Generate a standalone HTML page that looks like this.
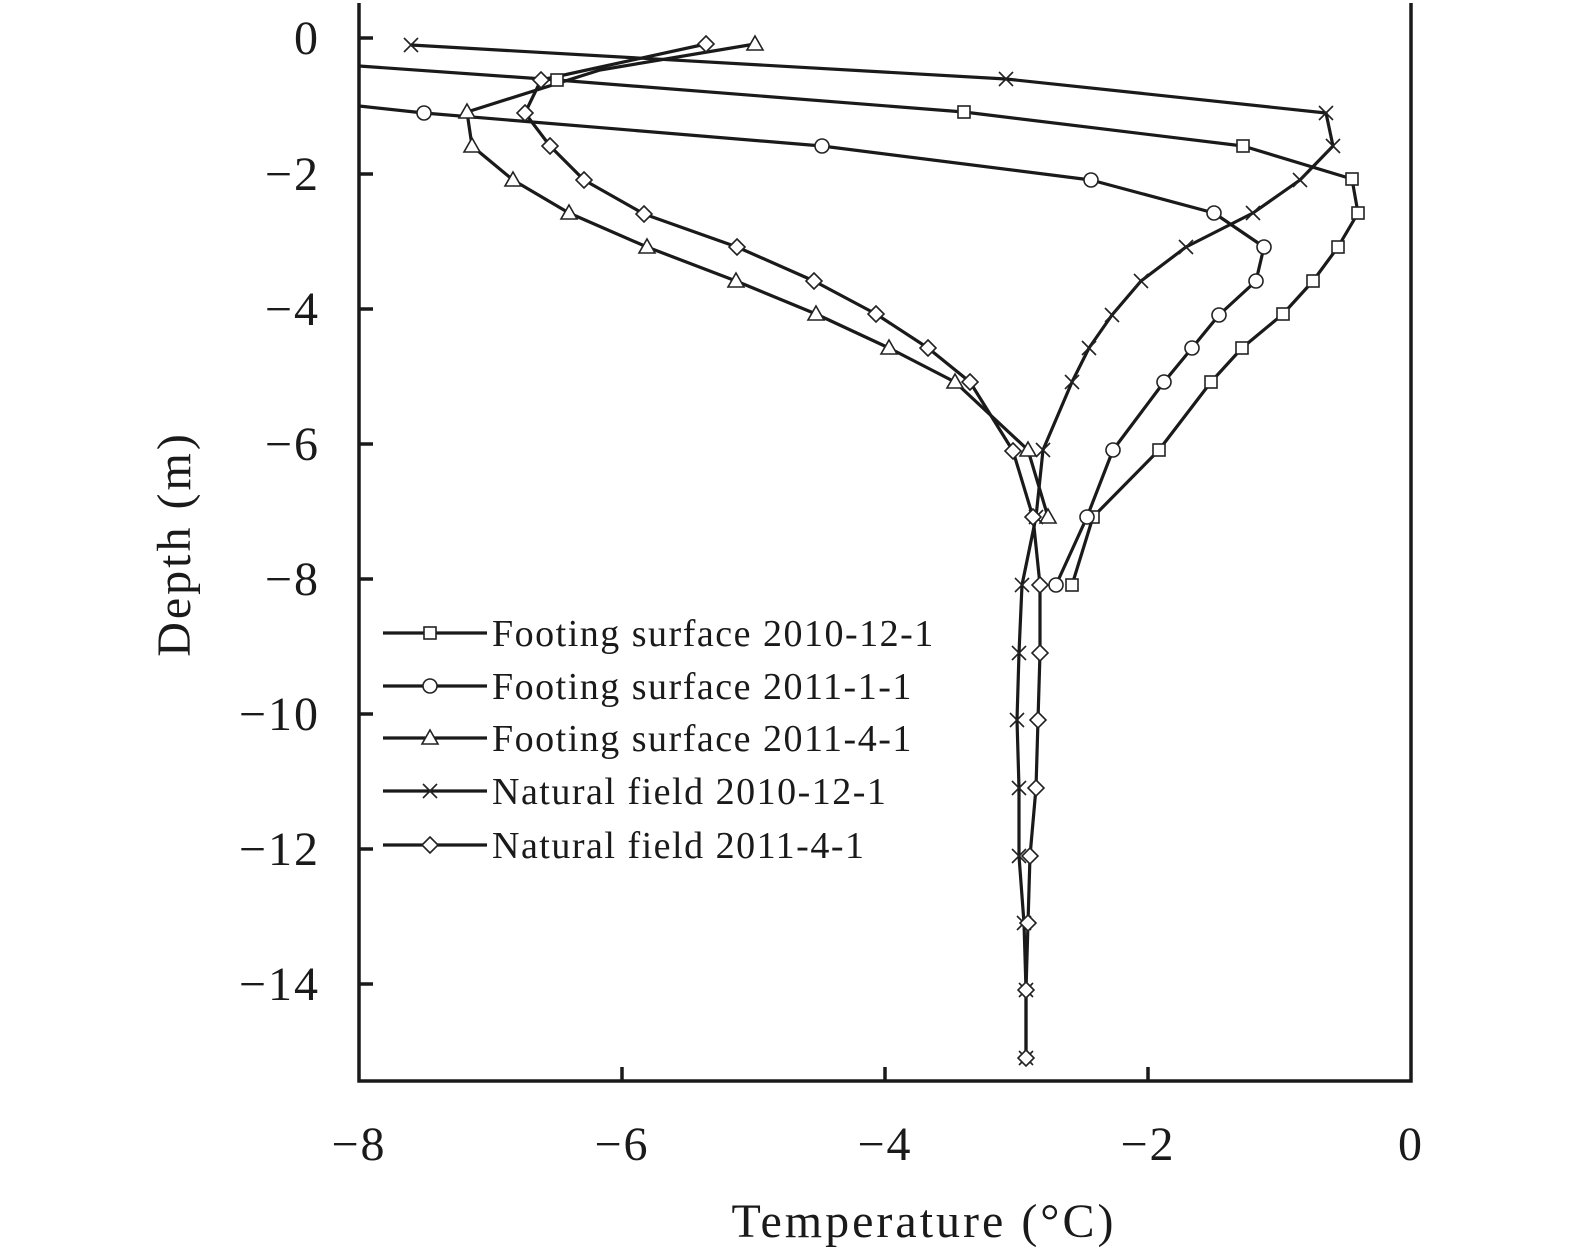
<!DOCTYPE html><html><head><style>body{margin:0;background:#fff}svg{display:block}text{font-family:"Liberation Serif",serif;fill:#1a1a1a}</style></head><body>
<svg width="1575" height="1260" viewBox="0 0 1575 1260" xmlns="http://www.w3.org/2000/svg">
<defs>
<g id="sq"><rect x="-6" y="-6" width="12" height="12" fill="#fff" stroke="#222" stroke-width="1.6"/></g>
<g id="ci"><circle r="7" fill="#fff" stroke="#222" stroke-width="1.6"/></g>
<g id="tr"><polygon points="0,-8 8,6 -8,6" fill="#fff" stroke="#222" stroke-width="1.6"/></g>
<g id="xx"><path d="M-7,-7L7,7M-7,7L7,-7" stroke="#222" stroke-width="1.6"/></g>
<g id="di"><polygon points="0,-8 8,0 0,8 -8,0" fill="#fff" stroke="#222" stroke-width="1.6"/></g>
</defs>
<g fill="none" stroke="#1a1a1a" stroke-width="3.5">
<path d="M359,3V1081H1411V3"/>
<path d="M359,38h14M359,174h14M359,309h14M359,444h14M359,579h14M359,714h14M359,849h14M359,984h14"/>
<path d="M622,1081v-14M885,1081v-14M1148,1081v-14"/>
</g>
<g fill="none" stroke="#1a1a1a" stroke-width="3.2" stroke-linejoin="round">
<polyline points="359,66 557,80 964,112 1243,146 1352,179 1358,213 1338,247 1313,281 1283,314 1242,348 1211,382 1159,450 1093,517 1072,585"/>
<polyline points="359,106 424,113 822,146 1091,180 1214,213 1264,247 1256,281 1219,315 1192,348 1164,382 1113,450 1087,517 1056,585"/>
<polyline points="755,44 600,70 467,112 472,146 513,180 569,213 647,247 736,281 816,314 889,348 955,382 1028,450 1048,517"/>
<polyline points="411,45 1006,79 1326,113 1333,146 1300,180 1253,213 1186,247 1141,281 1112,315 1089,348 1072,382 1043,450 1036,517 1022,585 1019,653 1017,720 1019,788 1019,856 1024,923 1026,990 1026,1058"/>
<polyline points="706,44 541,80 525,113 550,146 584,180 644,214 737,247 814,281 876,314 928,348 970,382 1013,451 1033,517 1040,585 1040,653 1038,720 1036,788 1030,856 1028,923 1026,990 1026,1058"/>
<path d="M383,633h104M383,686h104M383,738h104M383,791h104M383,845h104"/>
</g>
<g>
<use href="#sq" x="557" y="80"/><use href="#sq" x="964" y="112"/><use href="#sq" x="1243" y="146"/><use href="#sq" x="1352" y="179"/><use href="#sq" x="1358" y="213"/><use href="#sq" x="1338" y="247"/><use href="#sq" x="1313" y="281"/><use href="#sq" x="1283" y="314"/><use href="#sq" x="1242" y="348"/><use href="#sq" x="1211" y="382"/><use href="#sq" x="1159" y="450"/><use href="#sq" x="1093" y="517"/><use href="#sq" x="1072" y="585"/>
<use href="#ci" x="424" y="113"/><use href="#ci" x="822" y="146"/><use href="#ci" x="1091" y="180"/><use href="#ci" x="1214" y="213"/><use href="#ci" x="1264" y="247"/><use href="#ci" x="1256" y="281"/><use href="#ci" x="1219" y="315"/><use href="#ci" x="1192" y="348"/><use href="#ci" x="1164" y="382"/><use href="#ci" x="1113" y="450"/><use href="#ci" x="1087" y="517"/><use href="#ci" x="1056" y="585"/>
<use href="#tr" x="755" y="44"/><use href="#tr" x="467" y="112"/><use href="#tr" x="472" y="146"/><use href="#tr" x="513" y="180"/><use href="#tr" x="569" y="213"/><use href="#tr" x="647" y="247"/><use href="#tr" x="736" y="281"/><use href="#tr" x="816" y="314"/><use href="#tr" x="889" y="348"/><use href="#tr" x="955" y="382"/><use href="#tr" x="1028" y="450"/><use href="#tr" x="1048" y="517"/>
<use href="#xx" x="411" y="45"/><use href="#xx" x="1006" y="79"/><use href="#xx" x="1326" y="113"/><use href="#xx" x="1333" y="146"/><use href="#xx" x="1300" y="180"/><use href="#xx" x="1253" y="213"/><use href="#xx" x="1186" y="247"/><use href="#xx" x="1141" y="281"/><use href="#xx" x="1112" y="315"/><use href="#xx" x="1089" y="348"/><use href="#xx" x="1072" y="382"/><use href="#xx" x="1043" y="450"/><use href="#xx" x="1036" y="517"/><use href="#xx" x="1022" y="585"/><use href="#xx" x="1019" y="653"/><use href="#xx" x="1017" y="720"/><use href="#xx" x="1019" y="788"/><use href="#xx" x="1019" y="856"/><use href="#xx" x="1024" y="923"/><use href="#xx" x="1026" y="990"/><use href="#xx" x="1026" y="1058"/>
<use href="#di" x="706" y="44"/><use href="#di" x="541" y="80"/><use href="#di" x="525" y="113"/><use href="#di" x="550" y="146"/><use href="#di" x="584" y="180"/><use href="#di" x="644" y="214"/><use href="#di" x="737" y="247"/><use href="#di" x="814" y="281"/><use href="#di" x="876" y="314"/><use href="#di" x="928" y="348"/><use href="#di" x="970" y="382"/><use href="#di" x="1013" y="451"/><use href="#di" x="1033" y="517"/><use href="#di" x="1040" y="585"/><use href="#di" x="1040" y="653"/><use href="#di" x="1038" y="720"/><use href="#di" x="1036" y="788"/><use href="#di" x="1030" y="856"/><use href="#di" x="1028" y="923"/><use href="#di" x="1026" y="990"/><use href="#di" x="1026" y="1058"/>
<use href="#sq" x="430" y="633"/><use href="#ci" x="430" y="686"/><use href="#tr" x="430" y="738"/><use href="#xx" x="430" y="791"/><use href="#di" x="430" y="845"/>
</g>
<g font-size="38" letter-spacing="1.5">
<text x="492" y="646">Footing surface 2010-12-1</text>
<text x="492" y="699">Footing surface 2011-1-1</text>
<text x="492" y="751">Footing surface 2011-4-1</text>
<text x="492" y="804">Natural field 2010-12-1</text>
<text x="492" y="858">Natural field 2011-4-1</text>
</g>
<g font-size="48" text-anchor="end" letter-spacing="2">
<text x="320" y="54">0</text><text x="320" y="190">−2</text><text x="320" y="325">−4</text><text x="320" y="460">−6</text><text x="320" y="595">−8</text><text x="320" y="730">−10</text><text x="320" y="865">−12</text><text x="320" y="1000">−14</text>
</g>
<g font-size="48" text-anchor="middle" letter-spacing="2">
<text x="359" y="1160">−8</text><text x="622" y="1160">−6</text><text x="885" y="1160">−4</text><text x="1148" y="1160">−2</text><text x="1411" y="1160">0</text>
</g>
<g font-size="48" text-anchor="middle" letter-spacing="3">
<text x="924" y="1237">Temperature (°C)</text>
<text transform="translate(190,544) rotate(-90)">Depth (m)</text>
</g>
</svg>
</body></html>
